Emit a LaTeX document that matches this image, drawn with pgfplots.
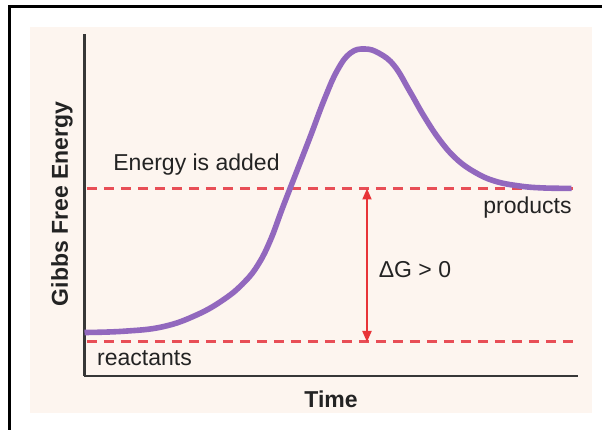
\documentclass[border=0pt]{standalone}
\usepackage{pgfplots}
\pgfplotsset{compat=1.18}
\usepackage{fontspec}
\setmainfont{Liberation Sans}
\usetikzlibrary{arrows.meta}
\definecolor{peach}{RGB}{253,245,239}
\definecolor{curvepurple}{RGB}{146,104,190}
\definecolor{dashred}{RGB}{232,78,86}
\definecolor{arrowred}{RGB}{232,52,56}
\definecolor{axisgray}{RGB}{55,55,55}
\definecolor{textgray}{RGB}{35,35,35}
\newcommand{\lbl}{\fontsize{11.5}{13}\selectfont}
\begin{document}
\begin{tikzpicture}[x=0.5pt,y=0.5pt]
\useasboundingbox (0,0) rectangle (602,430);
\fill[white] (0,0) rectangle (602,430);
\fill[peach] (30,17) rectangle (592,403);
\draw[black,line width=1.1pt] (9.5,0) -- (9.5,423.5) -- (602,423.5);
\begin{axis}[
  at={(84.5,54)}, anchor=origin,
  scale only axis, width=246.75pt, height=171pt,
  xmin=0, xmax=493.5, ymin=0, ymax=342,
  axis x line=bottom, axis y line=left,
  axis line style={-, line width=1.4pt, axisgray},
  xtick=\empty, ytick=\empty,
  clip=false,
]
% reactants / products levels
\addplot[dashred, line width=1.5pt, dash pattern=on 5pt off 3.5pt] coordinates {(2.5,187.5) (493.5,187.5)};
\addplot[dashred, line width=1.5pt, dash pattern=on 5pt off 3.5pt] coordinates {(2.5,34) (493.5,34)};
% energy curve
\addplot[curvepurple, line width=2.8pt, smooth, tension=0.7] coordinates {
(0,43.5) (40,44.8) (78.5,49.3) (112,61) (140,77) (160,94)
(174,112) (186,136) (198,168) (212,204) (226,240)
(240,277) (253,306) (266,323) (280.5,327) (295,322.5)
(310,310) (325.5,284.3) (340,259) (356,235) (372,217)
(390,204) (410,195) (435,190) (460,188) (487,187.7)
};
% Delta G arrow
\addplot[arrowred, line width=1pt, {Triangle[length=5.5pt,width=4.5pt]}-{Triangle[length=5.5pt,width=4.5pt]}] coordinates {(282.5,34) (282.5,187.5)};
\node[font=\lbl, text=textgray] at (axis cs:112,211) {Energy is added};
\node[font=\lbl, text=textgray, anchor=east, inner sep=0pt] at (axis cs:487.5,168) {products};
\node[font=\lbl, text=textgray] at (axis cs:330.5,106.7) {ΔG > 0};
\node[font=\lbl, text=textgray] at (axis cs:60,18) {reactants};
\node[font=\lbl\bfseries, text=textgray] at (axis cs:246.5,-23) {Time};
\node[font=\lbl\bfseries, text=textgray, rotate=90] at (axis cs:-22.5,172) {Gibbs Free Energy};
\end{axis}
\end{tikzpicture}
\end{document}
